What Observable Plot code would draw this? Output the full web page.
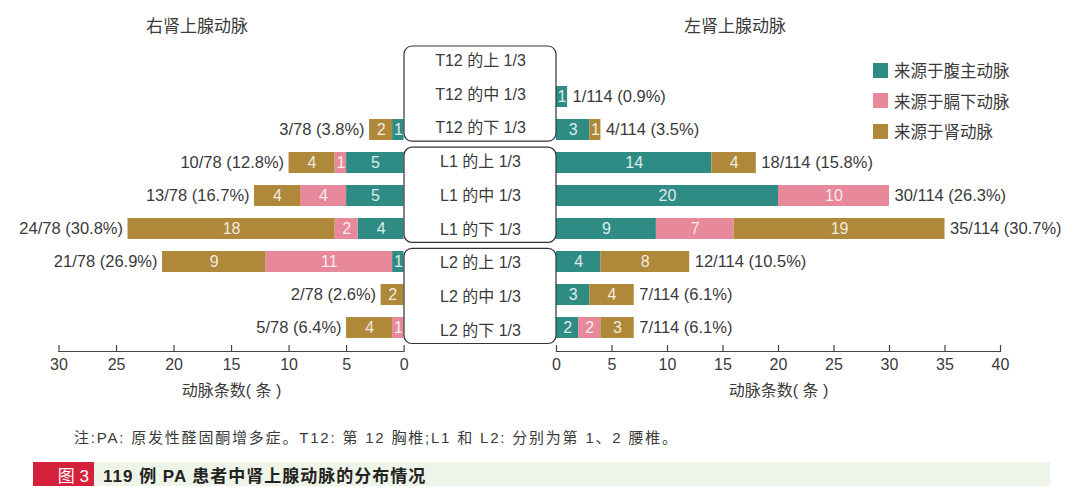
<!DOCTYPE html>
<html><head><meta charset="utf-8">
<script src="https://cdn.jsdelivr.net/npm/d3@7"></script>
<script src="https://cdn.jsdelivr.net/npm/@observablehq/plot@0.6"></script>
<style>
body{margin:0;background:#fff;}
#root{position:relative;width:1080px;height:497px;overflow:hidden;font-family:"Liberation Sans","Noto Sans CJK SC",sans-serif;color:#3a3a3a;}
#root svg{position:absolute;top:0;overflow:visible;}
.abs{position:absolute;white-space:nowrap;}
.title{font-size:17px;transform:translate(-50%,-50%);color:#3a3a3a;}
.leg{display:flex;align-items:center;font-size:16.5px;height:20px;transform:translateY(-50%);}
.leg span.sw{display:inline-block;width:15px;height:15px;margin-right:6px;}
</style></head><body><div id="root"></div>
<script>
// ---- data ----
const rows = ["T12 的上 1/3","T12 的中 1/3","T12 的下 1/3","L1 的上 1/3","L1 的中 1/3","L1 的下 1/3","L2 的上 1/3","L2 的中 1/3","L2 的下 1/3"];
const groupNames = ["T12","L1","L2"];
const seriesNames = ["来源于腹主动脉","来源于膈下动脉","来源于肾动脉"];
const seriesColors = ["#2e8c85","#e7899a","#b0883a"];
// 右肾上腺动脉 (left panel)
const rightAorta   = [0,0,1,5,5,4,1,0,0];
const rightPhrenic = [0,0,0,1,4,2,11,0,1];
const rightRenal   = [0,0,2,4,4,18,9,2,4];
const rightTotal = 78;
// 左肾上腺动脉 (right panel)
const leftAorta   = [0,1,3,14,20,9,4,3,2];
const leftPhrenic = [0,0,0,0,10,7,0,0,2];
const leftRenal   = [0,0,1,4,0,19,8,4,3];
const leftTotal = 114;
const leftTicks = [0,5,10,15,20,25,30];
const rightTicks = [0,5,10,15,20,25,30,35,40];
const sideTitles = ["右肾上腺动脉","左肾上腺动脉"];
const axisTitle = "动脉条数( 条 )";
const noteText = "注:PA: 原发性醛固酮增多症。T12: 第 12 胸椎;L1 和 L2: 分别为第 1、2 腰椎。";
const figLabel = "图 3";
const captionText = "119 例 PA 患者中肾上腺动脉的分布情况";

// ---- helpers ----
const root = document.getElementById("root");
const FONT = '"Liberation Sans","Noto Sans CJK SC",sans-serif';
const TXT = "#3a3a3a";
const yRange = [43.5, 347];

function longData(a, p, r) {
  const out = [];
  rows.forEach((row, i) => {
    [a, p, r].forEach((arr, s) => out.push({row, series: seriesNames[s], value: arr[i]}));
  });
  return out.filter(d => d.value > 0);
}
function totalsData(a, p, r, N) {
  return rows.map((row, i) => {
    const t = a[i] + p[i] + r[i];
    return {row, total: t, label: `${t}/${N} (${(t / N * 100).toFixed(1)}%)`};
  }).filter(d => d.total > 0);
}

function panel({a, p, r, N, domain, range, ticks, left, width}) {
  const long = longData(a, p, r);
  const tot = totalsData(a, p, r, N);
  const lo = Math.min(...domain), hi = Math.max(...domain);
  return Plot.plot({
    width, height: 400, marginTop: 0, marginBottom: 48, marginLeft: 0, marginRight: 0,
    style: {fontFamily: FONT, fontSize: "16px", color: TXT, background: "transparent", overflow: "visible"},
    x: {domain, range, axis: null},
    y: {domain: rows, range: yRange, paddingInner: 0.35, paddingOuter: 0.175, axis: null},
    color: {domain: seriesNames, range: seriesColors},
    marks: [
      Plot.barX(long, Plot.stackX({x: "value", y: "row", fill: "series", order: seriesNames})),
      Plot.text(long, Plot.stackX({x: "value", y: "row", z: "series", order: seriesNames, text: d => String(d.value), fill: "#ffffff", fillOpacity: 0.85, fontSize: 16})),
      Plot.text(tot, {x: "total", y: "row", text: "label", textAnchor: left ? "end" : "start", dx: left ? -5 : 5, fill: TXT, fontSize: 16.5}),
      Plot.rect([0], {x1: lo, x2: hi, insetTop: 351, fill: "#444"}),
      Plot.ruleX(ticks, {x: d => d, insetTop: 345, stroke: "#444", strokeWidth: 1.2}),
      Plot.text(ticks, {x: d => d, frameAnchor: "bottom", dy: 17, text: d => String(d), fill: TXT, fontSize: 16}),
      Plot.text([axisTitle], {x: (lo + hi) / 2, frameAnchor: "bottom", dy: 43, text: d => d, fill: TXT, fontSize: 16})
    ]
  });
}

// left panel: 右肾上腺动脉
const leftSvg = panel({a: rightAorta, p: rightPhrenic, r: rightRenal, N: rightTotal, domain: [30, 0], range: [58.5, 403.6], ticks: leftTicks, left: true, width: 420});
leftSvg.style.left = "0px";
root.appendChild(leftSvg);

// right panel: 左肾上腺动脉 (svg placed at x=540)
const rightSvg = panel({a: leftAorta, p: leftPhrenic, r: leftRenal, N: leftTotal, domain: [0, 40], range: [556 - 540, 1000 - 540], ticks: rightTicks, left: false, width: 540});
rightSvg.style.left = "540px";
root.appendChild(rightSvg);

// middle labels (svg placed at x=390)
const groups = groupNames.map(g => {
  const idx = rows.map((r, i) => r.startsWith(g + " ") ? i : -1).filter(i => i >= 0);
  return {g, first: Math.min(...idx), last: Math.max(...idx)};
});
const midSvg = Plot.plot({
  width: 180, height: 400, marginTop: 0, marginBottom: 0, marginLeft: 0, marginRight: 0,
  style: {fontFamily: FONT, fontSize: "16px", color: TXT, background: "transparent", overflow: "visible"},
  x: {domain: [0, 1], range: [404 - 390, 556 - 390], axis: null},
  y: {domain: [-0.5, rows.length - 0.5], range: yRange, axis: null},
  marks: [
    Plot.rect(groups, {x1: 0, x2: 1, y1: d => d.first - 0.5, y2: d => d.last + 0.5, insetTop: 2.5, insetBottom: 3.5, rx: 8, fill: "#ffffff", stroke: "#333", strokeWidth: 1.2}),
    Plot.text(rows, {x: 0.5, y: (d, i) => i, text: d => d, fill: TXT, fontSize: 16})
  ]
});
midSvg.style.left = "390px";
root.appendChild(midSvg);

// side titles
[[197, sideTitles[0]], [735, sideTitles[1]]].forEach(([x, t]) => {
  const d = document.createElement("div");
  d.className = "abs title"; d.style.left = x + "px"; d.style.top = "24px"; d.textContent = t;
  root.appendChild(d);
});

// legend
seriesNames.forEach((s, i) => {
  const d = document.createElement("div");
  d.className = "abs leg"; d.style.left = "873px"; d.style.top = (70 + i * 30.5) + "px";
  d.innerHTML = `<span class="sw" style="background:${seriesColors[i]}"></span><span>${s}</span>`;
  root.appendChild(d);
});

// note
const note = document.createElement("div");
note.className = "abs"; note.style.left = "74px"; note.style.top = "426px";
note.style.fontSize = "15px"; note.style.letterSpacing = "1.8px"; note.style.color = "#3a3a3a";
note.textContent = noteText;
root.appendChild(note);

// caption bar
const cap = document.createElement("div");
cap.className = "abs"; cap.style.left = "33px"; cap.style.top = "462px"; cap.style.width = "1017px"; cap.style.height = "24px";
cap.style.background = "#eef4e7"; cap.style.display = "flex"; cap.style.alignItems = "center";
cap.innerHTML = `<span style="display:inline-flex;align-items:center;justify-content:flex-end;width:61px;height:24px;background:#d5203c;color:#fff;font-size:17px;box-sizing:border-box;padding-right:5px;">${figLabel}</span><span style="margin-left:9px;font-size:17px;font-weight:bold;color:#222;letter-spacing:1px;">${captionText}</span>`;
root.appendChild(cap);
</script>
</body></html>
